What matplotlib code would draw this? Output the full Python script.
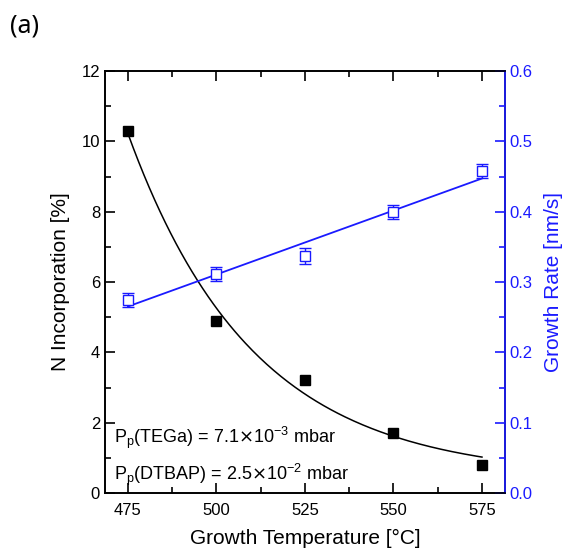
import matplotlib
matplotlib.use("Agg")
import matplotlib.pyplot as plt
import numpy as np
from matplotlib.ticker import MultipleLocator, FormatStrFormatter

plt.rcParams['font.family'] = ['Liberation Sans', 'DejaVu Sans']

# data
temps = np.array([475, 500, 525, 550, 575])
n_inc = np.array([10.3, 4.9, 3.2, 1.7, 0.8])
growth_rate = np.array([0.275, 0.311, 0.337, 0.400, 0.458])
growth_err = np.array([0.010, 0.010, 0.011, 0.010, 0.010])

blue = '#1a1aff'

# exponential decay fit y = A*exp(-(x-475)/t) + y0 (simple grid search)
best = None
for t in np.linspace(10, 200, 400):
    for y0 in np.linspace(-2, 2, 81):
        e = np.exp(-(temps - 475) / t)
        A = np.sum(e * (n_inc - y0)) / np.sum(e * e)
        r = np.sum((A * e + y0 - n_inc) ** 2)
        if best is None or r < best[0]:
            best = (r, A, t, y0)
_, A, t, y0 = best
xf = np.linspace(475, 575, 200)
yf = A * np.exp(-(xf - 475) / t) + y0

# linear fit for growth rate
p = np.polyfit(temps, growth_rate, 1)

fig = plt.figure(figsize=(5.69, 5.56), dpi=100)
ax = fig.add_axes([0.1845, 0.1133, 0.703, 0.759])
ax2 = ax.twinx()

ax.plot(xf, yf, color='black', lw=1.1)
ax.plot(temps, n_inc, 's', color='black', ms=7.5)

ax2.plot(xf, np.polyval(p, xf), color=blue, lw=1.3)
ax2.errorbar(temps, growth_rate, yerr=growth_err, fmt='s', mfc='white', mec=blue,
             ecolor=blue, ms=7, mew=1, capsize=4, elinewidth=1, capthick=1)

ax.set_xlim(468.5, 581.5)
ax.set_ylim(0, 12)
ax2.set_ylim(0, 0.6)
ax.set_xticks(temps)
ax.xaxis.set_minor_locator(MultipleLocator(12.5))
ax.yaxis.set_major_locator(MultipleLocator(2))
ax.yaxis.set_minor_locator(MultipleLocator(1))
ax2.yaxis.set_major_locator(MultipleLocator(0.1))
ax2.yaxis.set_minor_locator(MultipleLocator(0.05))
ax2.yaxis.set_major_formatter(FormatStrFormatter('%.1f'))

ax.tick_params(which='both', direction='in', top=True, labelsize=12, width=1.2)
ax.tick_params(which='major', length=7)
ax.tick_params(which='minor', length=4)
ax.tick_params(axis='y', right=False)
ax.tick_params(axis='x', pad=7)
ax2.tick_params(which='both', direction='in', colors=blue, labelsize=12, width=1.2)
ax2.tick_params(which='major', length=7)
ax2.tick_params(which='minor', length=4)

for s in ax.spines.values():
    s.set_linewidth(1.2)
for s in ax2.spines.values():
    s.set_linewidth(1.2)
ax2.spines['right'].set_color(blue)

ax.set_xlabel('Growth Temperature [°C]', fontsize=15, labelpad=8)
ax.set_ylabel('N Incorporation [%]', fontsize=15, labelpad=8)
ax2.set_ylabel('Growth Rate [nm/s]', fontsize=15, color=blue, labelpad=8)

ax.text(471, 1.42, r'P$_\mathregular{p}$(TEGa) = 7.1$\times$10$^\mathregular{-3}$ mbar',
        fontsize=13)
ax.text(471, 0.38, r'P$_\mathregular{p}$(DTBAP) = 2.5$\times$10$^\mathregular{-2}$ mbar',
        fontsize=13)

fig.text(0.018, 0.942, '(a)', fontsize=18, family='Noto Sans')

fig.savefig('out.png', dpi=100)
